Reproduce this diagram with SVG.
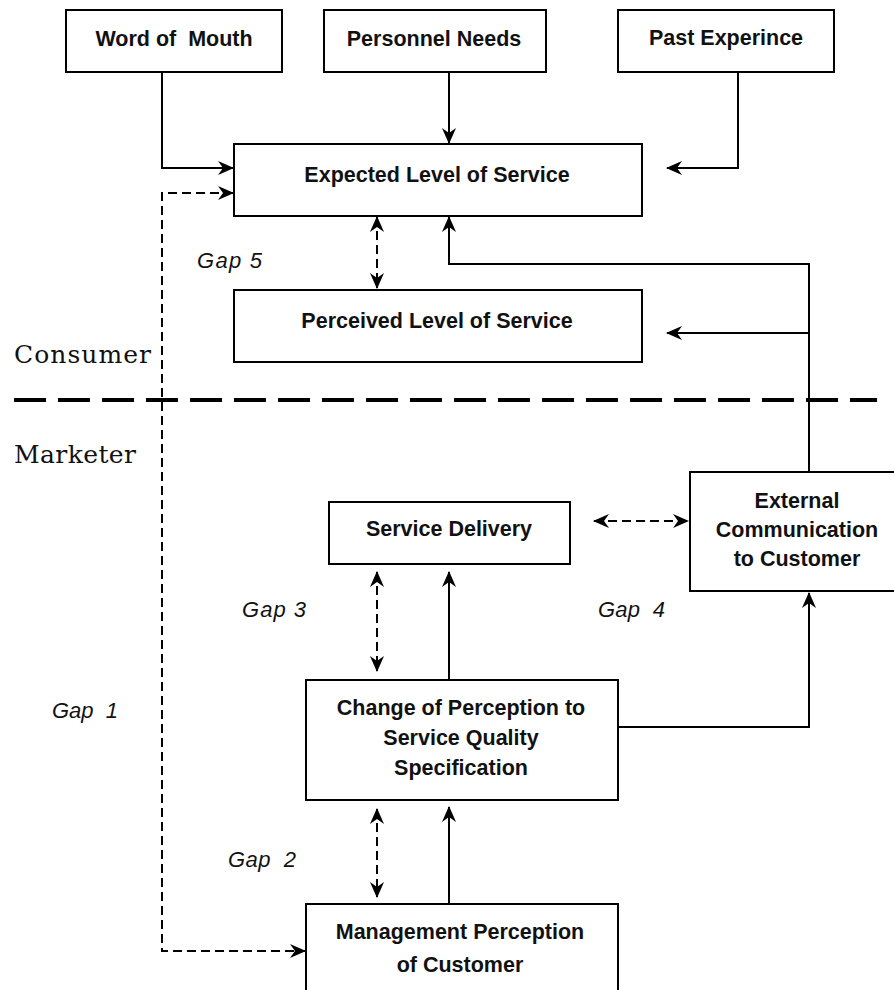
<svg xmlns="http://www.w3.org/2000/svg" width="894" height="990" viewBox="0 0 894 990">
<style>
.box{fill:#fff;stroke:#000;stroke-width:2}
.lbl{font-family:"Liberation Sans",Arial,sans-serif;font-weight:bold;font-size:21.5px;fill:#111;text-anchor:middle}
.gap{font-family:"Liberation Sans",Arial,sans-serif;font-style:italic;font-size:22px;fill:#111}
.side{font-family:"DejaVu Serif","Liberation Serif",serif;font-size:25px;fill:#111}
.ln{fill:none;stroke:#000;stroke-width:2}
.solid{marker-end:url(#ah)}
.dash{stroke-dasharray:9,5;marker-start:url(#ah);marker-end:url(#ah)}
</style>
<defs>
<marker id="ah" viewBox="0 0 16 14" refX="15" refY="7" markerWidth="16" markerHeight="14" markerUnits="userSpaceOnUse" orient="auto-start-reverse">
<path d="M0,0 L16,7 L0,14 L5,7 Z" fill="#000"/>
</marker>
</defs>
<rect width="894" height="990" fill="#fff"/>
<g id="connectors">
<path class="ln solid" d="M162,72 V168 H233"/>
<path class="ln solid" d="M449,72 V143"/>
<path class="ln solid" d="M738,72 V168 H667"/>
<path class="ln dash" d="M233,193 H162 V951 H305"/>
<path class="ln dash" d="M377,217 V288"/>
<path class="ln solid" d="M809,480 V264 H449 V217"/>
<path class="ln solid" d="M809,333 H667"/>
<path d="M14,400 H877" fill="none" stroke="#000" stroke-width="4" stroke-dasharray="32,12"/>
<path class="ln dash" d="M377,572 V671"/>
<path class="ln solid" d="M449,680 V572"/>
<path class="ln dash" d="M594,521 H688"/>
<path class="ln solid" d="M618,727 H809 V593"/>
<path class="ln dash" d="M377,809 V897"/>
<path class="ln solid" d="M449,904 V807"/>
</g>
<g id="word-of-mouth"><rect class="box" x="66" y="10" width="216" height="62"/><text class="lbl" x="174" y="46" xml:space="preserve">Word of  Mouth</text></g>
<g id="personnel-needs"><rect class="box" x="324" y="10" width="222" height="62"/><text class="lbl" x="434" y="46">Personnel Needs</text></g>
<g id="past-experience"><rect class="box" x="618" y="10" width="216" height="62"/><text class="lbl" x="726" y="45">Past Experince</text></g>
<g id="expected"><rect class="box" x="234" y="144" width="408" height="72"/><text class="lbl" x="437" y="182">Expected Level of Service</text></g>
<g id="perceived"><rect class="box" x="234" y="290" width="408" height="72"/><text class="lbl" x="437" y="328">Perceived Level of Service</text></g>
<g id="service-delivery"><rect class="box" x="329" y="502" width="241" height="62"/><text class="lbl" x="449" y="536">Service Delivery</text></g>
<g id="external"><rect class="box" x="690" y="472" width="216" height="119"/><text class="lbl" x="797" y="508">External</text><text class="lbl" x="797" y="537">Communication</text><text class="lbl" x="797" y="566">to Customer</text></g>
<g id="change"><rect class="box" x="306" y="680" width="312" height="120"/><text class="lbl" x="461" y="715">Change of Perception to</text><text class="lbl" x="461" y="745">Service Quality</text><text class="lbl" x="461" y="775">Specification</text></g>
<g id="management"><rect class="box" x="306" y="904" width="312" height="100"/><text class="lbl" x="460" y="939">Management Perception</text><text class="lbl" x="460" y="972">of Customer</text></g>
<g id="labels">
<text class="side" x="14" y="363" textLength="137" lengthAdjust="spacing">Consumer</text>
<text class="side" x="14" y="463" textLength="122" lengthAdjust="spacing">Marketer</text>
<text class="gap" x="197" y="268" textLength="65" lengthAdjust="spacing">Gap 5</text>
<text class="gap" x="242" y="617" textLength="64" lengthAdjust="spacing">Gap 3</text>
<text class="gap" x="598" y="617" textLength="67" lengthAdjust="spacing" xml:space="preserve">Gap  4</text>
<text class="gap" x="52" y="718" textLength="66" lengthAdjust="spacing" xml:space="preserve">Gap  1</text>
<text class="gap" x="228" y="867" textLength="68" lengthAdjust="spacing" xml:space="preserve">Gap  2</text>
</g>
</svg>
